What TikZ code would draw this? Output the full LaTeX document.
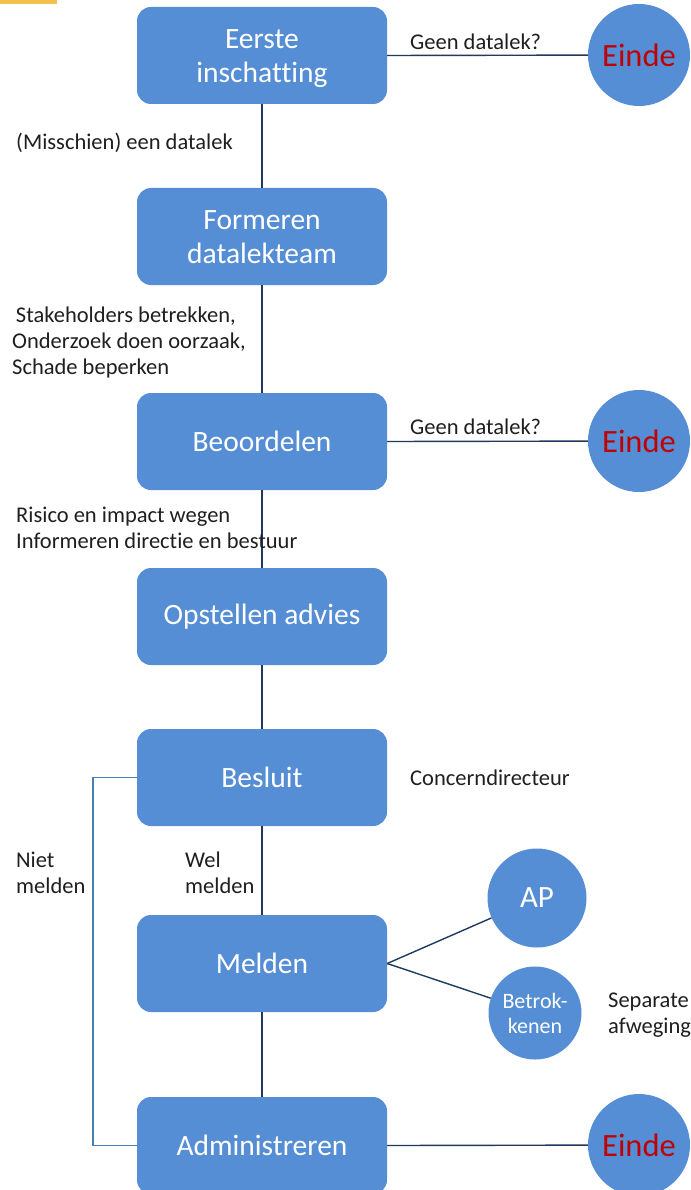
\documentclass[tikz,border=0pt]{standalone}
\usepackage{fontspec}
\setmainfont{Carlito}[Ligatures={NoCommon,TeX}]
\definecolor{boxblue}{HTML}{558ED5}
\definecolor{linedark}{HTML}{1F3A5F}
\definecolor{lineblue}{HTML}{4A7EBB}
\definecolor{eindred}{HTML}{C00000}
\definecolor{marker}{HTML}{F2C14E}
\newcommand{\twolines}[2]{\raisebox{-3.5pt}[\height][\depth]{\begin{tabular}{@{}c@{}}#1\\#2\end{tabular}}}
\begin{document}
\begin{tikzpicture}[x=1pt,y=-1pt,
  box/.style={fill=boxblue, rounded corners=14pt, minimum width=250pt, minimum height=97pt,
    text=white, font=\fontsize{29.5}{34}\selectfont, align=center, inner sep=0pt},
  endc/.style={circle, fill=boxblue, minimum size=102pt, inner sep=0pt,
    text=eindred, font=\fontsize{32.5}{36}\selectfont},
  smallc/.style={circle, fill=boxblue, minimum size=100pt, inner sep=0pt,
    text=white, align=center},
  lbl/.style={anchor=west, align=left, font=\fontsize{22.5}{26}\selectfont, inner sep=0pt, text=black!88},
  conn/.style={draw=linedark, line width=1.4pt},
  connb/.style={draw=lineblue, line width=1.4pt}]
\useasboundingbox (0,0) rectangle (690,1190);
\fill[white] (0,0) rectangle (690,1190);
\fill[marker] (0,0) rectangle (57,4);

% boxes
\node[box] (b1) at (262,55.5) {\twolines{Eerste}{inschatting}};
\node[box] (b2) at (262,236.5) {\twolines{Formeren}{datalekteam}};
\node[box] (b3) at (262,441.5) {Beoordelen};
\node[box] (b4) at (262,616.5) {Opstellen advies};
\node[box] (b5) at (262,777.5) {Besluit};
\node[box] (b6) at (262,963.5) {Melden};
\node[box] (b7) at (262,1145.5) {Administreren};

% circles
\node[endc] (e1) at (639,55) {Einde};
\node[endc] (e2) at (639,441) {Einde};
\node[endc] (e3) at (639,1145) {Einde};
\node[smallc, minimum size=99pt, font=\fontsize{31}{36}\selectfont] (ap) at (537,898) {AP};
\node[smallc, minimum size=93pt, font=\fontsize{22}{25}\selectfont] (bt) at (535,1013) {Betrok-\\kenen};

% connectors
\draw[conn] (b1) -- (b2);
\draw[conn] (b2) -- (b3);
\draw[conn] (b3) -- (b4);
\draw[conn] (b4) -- (b5);
\draw[conn] (b5) -- (b6);
\draw[conn] (b6) -- (b7);
\draw[conn] (b1.east) -- (e1);
\draw[conn] (b3.east) -- (e2);
\draw[conn] (b7.east) -- (e3);
\draw[conn] (b6.east) -- (ap);
\draw[conn] (b6.east) -- (bt);
\coordinate (nm) at (93,777.5);
\draw[connb] (b5.west) -- (nm) |- (b7.west);

% labels
\node[lbl] (l1) at (410,42) {Geen datalek?};
\node[lbl] (l2) at (16,143) {(Misschien) een datalek};
\node[lbl] (l3) at (12,342) {\,Stakeholders betrekken,\\Onderzoek doen oorzaak,\\Schade beperken};
\node[lbl] (l4) at (410,427) {Geen datalek?};
\node[lbl] (l5) at (16,528) {Risico en impact wegen\\Informeren directie en bestuur};
\node[lbl] (l6) at (410,778) {Concerndirecteur};
\node[lbl] (l7) at (16,873) {Niet\\melden};
\node[lbl] (l8) at (185,873) {Wel\\melden};
\node[lbl] (l9) at (608,1015) {Separate\\afweging};
\end{tikzpicture}
\end{document}
